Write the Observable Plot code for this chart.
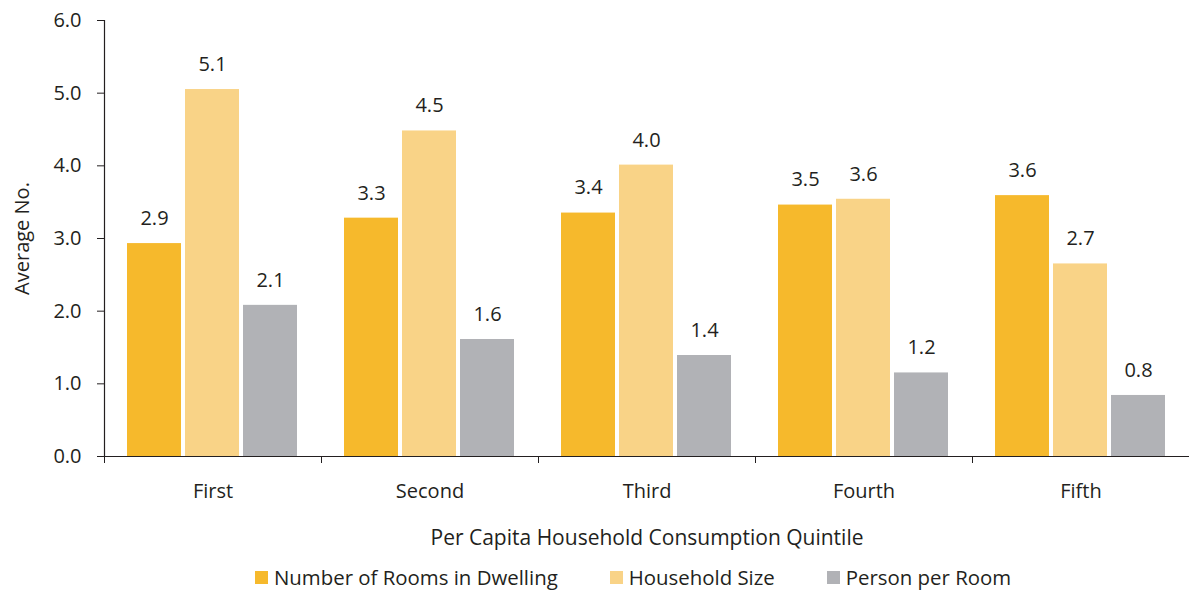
<!DOCTYPE html>
<html>
<head>
<meta charset="utf-8">
<script src="https://cdn.jsdelivr.net/npm/d3@7"></script>
<script src="https://cdn.jsdelivr.net/npm/@observablehq/plot@0.6"></script>
<style>
  html, body { margin: 0; padding: 0; background: #fff; }
  body { font-family: "Open Sans", "Noto Sans", sans-serif; color: #231f20; width: 1189px; height: 590px; overflow: hidden; }
  #legend { display: flex; align-items: center; margin-left: 255px; margin-top: 5px; font-size: 20.4px; color: #231f20; }
  #legend .item { display: flex; align-items: center; margin-right: 52px; }
  #legend .sw { width: 13px; height: 13px; margin-right: 6px; }
</style>
</head>
<body>
<div id="chart"></div>
<div id="legend"></div>
<script>
const quintiles = ["First", "Second", "Third", "Fourth", "Fifth"];
const series = ["Number of Rooms in Dwelling", "Household Size", "Person per Room"];
const colors = ["#f6b92c", "#f9d387", "#b1b2b6"];
const rooms = [2.93, 3.28, 3.35, 3.46, 3.59];
const householdSize = [5.05, 4.48, 4.01, 3.54, 2.65];
const personPerRoom = [2.08, 1.61, 1.39, 1.15, 0.84];
const roomsLabels = ["2.9", "3.3", "3.4", "3.5", "3.6"];
const householdSizeLabels = ["5.1", "4.5", "4.0", "3.6", "2.7"];
const personPerRoomLabels = ["2.1", "1.6", "1.4", "1.2", "0.8"];
const yTicks = [0, 1, 2, 3, 4, 5, 6];

const valueSets = [rooms, householdSize, personPerRoom];
const labelSets = [roomsLabels, householdSizeLabels, personPerRoomLabels];
const data = [];
quintiles.forEach((q, i) => {
  series.forEach((s, j) => {
    data.push({quintile: q, series: s, value: valueSets[j][i], label: labelSets[j][i]});
  });
});

const W = 1189, H = 558, mL = 104, mR = 0, mT = 20, mB = H - 456;
const bandW = (W - mL - mR) / quintiles.length;
const FONT = "'Open Sans', 'Noto Sans', sans-serif";

const chart = Plot.plot({
  width: W,
  height: H,
  marginLeft: mL,
  marginRight: mR,
  marginTop: mT,
  marginBottom: mB,
  style: {fontFamily: FONT, fontSize: "20px", color: "#231f20", background: "#fff"},
  fx: {domain: quintiles, padding: 0},
  x: {domain: series, paddingInner: 0.068, paddingOuter: 0.377, axis: null},
  y: {domain: [0, 6]},
  color: {domain: series, range: colors},
  marks: [
    Plot.barY(data, {fx: "quintile", x: "series", y: "value", fill: "series"}),
    Plot.text(data, {fx: "quintile", x: "series", y: "value", text: "label", dy: -25, fontSize: 20, fill: "#231f20"}),
    Plot.ruleY([0], {stroke: "#231f20", strokeWidth: 1.2}),
    Plot.frame({anchor: "left", facet: "super", stroke: "#231f20", strokeWidth: 1.2}),
    Plot.axisY({ticks: yTicks, tickFormat: d => d.toFixed(1), tickSize: 7, tickPadding: 16, fontSize: 20,
      label: "Average No.", labelAnchor: "center", labelArrow: "none", labelOffset: 90, stroke: "#231f20"}),
    Plot.axisFx({anchor: "bottom", tickSize: 0, tickPadding: 27, fontSize: 20, label: null}),
    Plot.axisFx({anchor: "bottom", tickSize: 0, tickFormat: null, dx: -14,
      label: "Per Capita Household Consumption Quintile", labelAnchor: "center", labelArrow: "none", labelOffset: 88, fontSize: 21}),
    Plot.axisFx({anchor: "bottom", tickSize: 7, tickFormat: null, label: null, dx: -bandW / 2, stroke: "#231f20"})
  ]
});
document.getElementById("chart").appendChild(chart);

const legend = document.getElementById("legend");
series.forEach((s, j) => {
  const item = document.createElement("div");
  item.className = "item";
  const sw = document.createElement("div");
  sw.className = "sw";
  sw.style.background = colors[j];
  const t = document.createElement("span");
  t.textContent = s;
  item.appendChild(sw);
  item.appendChild(t);
  legend.appendChild(item);
});
</script>
</body>
</html>
